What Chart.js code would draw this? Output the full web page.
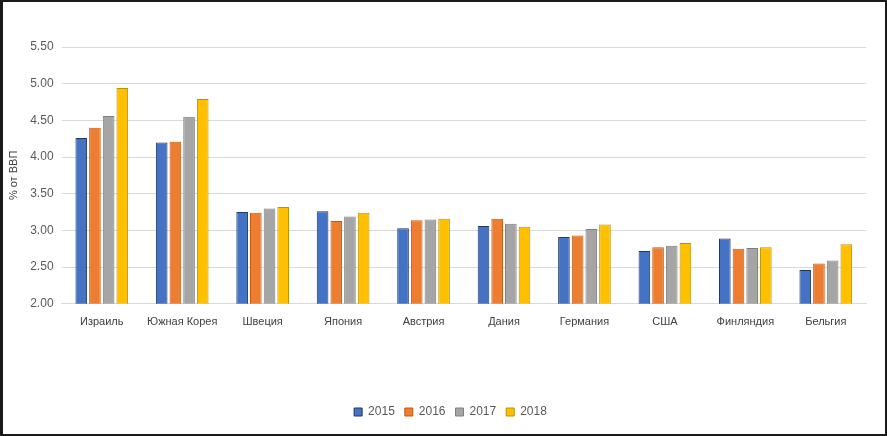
<!DOCTYPE html>
<html>
<head>
<meta charset="utf-8">
<script src="https://cdn.jsdelivr.net/npm/chart.js@4/dist/chart.umd.min.js"></script>
<style>
  body { margin: 0; background: #fff; }
  .frame {
    width: 887px; height: 436px; box-sizing: border-box;
    border: 2px solid #1a1a1a; border-left-width: 3px;
    background: #fff; position: relative;
  }
</style>
</head>
<body>
<div class="frame">
  <canvas id="rdChart"></canvas>
</div>
<script>
// R&D spending, % of GDP, by country and year
const countries = ['Израиль', 'Южная Корея', 'Швеция', 'Япония', 'Австрия', 'Дания', 'Германия', 'США', 'Финляндия', 'Бельгия'];
const years = ['2015', '2016', '2017', '2018'];

const values2015 = [4.26, 4.20, 3.25, 3.26, 3.03, 3.06, 2.91, 2.72, 2.89, 2.46];
const values2016 = [4.40, 4.21, 3.24, 3.13, 3.14, 3.16, 2.93, 2.77, 2.75, 2.55];
const values2017 = [4.56, 4.55, 3.30, 3.19, 3.15, 3.09, 3.02, 2.79, 2.76, 2.59];
const values2018 = [4.94, 4.79, 3.32, 3.24, 3.16, 3.05, 3.08, 2.83, 2.77, 2.81];

const fills = ['#4472C4', '#ED7D31', '#A5A5A5', '#FFC000'];
const edges = ['#203864', '#C55A11', '#7F7F7F', '#BF9000'];

const seriesValues = [values2015, values2016, values2017, values2018];

// nudge the legend a bit to the right, like in the original picture
const legendShift = {
    id: 'legendShift',
    afterUpdate(chart) {
        const legend = chart.legend;
        if (!legend || legend._shifted) return;
        const orig = legend.draw.bind(legend);
        legend.draw = function () {
            chart.ctx.save();
            chart.ctx.translate(14, 0);
            orig();
            chart.ctx.restore();
        };
        legend._shifted = true;
    },
};

const ctx = document.getElementById('rdChart');

new Chart(ctx, {
    type: 'bar',
    data: {
        labels: countries,
        datasets: years.map((y, i) => ({
            label: y,
            data: seriesValues[i],
            backgroundColor: fills[i],
            borderColor: edges[i],
            borderWidth: 1,
            categoryPercentage: 0.68,
            barPercentage: 0.85,
        })),
    },
    options: {
        responsive: true,
        maintainAspectRatio: false,
        animation: false,
        layout: {
            padding: { top: 45, right: 19, bottom: 6, left: 4 },
        },
        plugins: {
            tooltip: { enabled: false },
            legend: {
                position: 'bottom',
                labels: {
                    boxWidth: 8,
                    boxHeight: 8,
                    padding: 10,
                    color: '#595959',
                    font: { family: 'Liberation Sans', size: 12 },
                },
            },
        },
        scales: {
            x: {
                grid: { display: false },
                border: { color: '#d9d9d9' },
                ticks: {
                    color: '#404040',
                    padding: 4,
                    maxRotation: 0,
                    font: { family: 'Liberation Sans', size: 11 },
                },
                afterFit: (scale) => { scale.height += 63; },
            },
            y: {
                min: 2,
                max: 5.5,
                grid: { color: '#d9d9d9', drawTicks: false },
                border: { display: false },
                ticks: {
                    stepSize: 0.5,
                    padding: 8,
                    color: '#595959',
                    font: { family: 'Liberation Sans', size: 12 },
                    callback: (v) => v.toFixed(2),
                },
                title: {
                    display: true,
                    text: '% от ВВП',
                    color: '#404040',
                    font: { family: 'Liberation Sans', size: 11 },
                    padding: { top: 0, bottom: 2 },
                },
            },
        },
    },
    plugins: [legendShift],
});
</script>
</body>
</html>
